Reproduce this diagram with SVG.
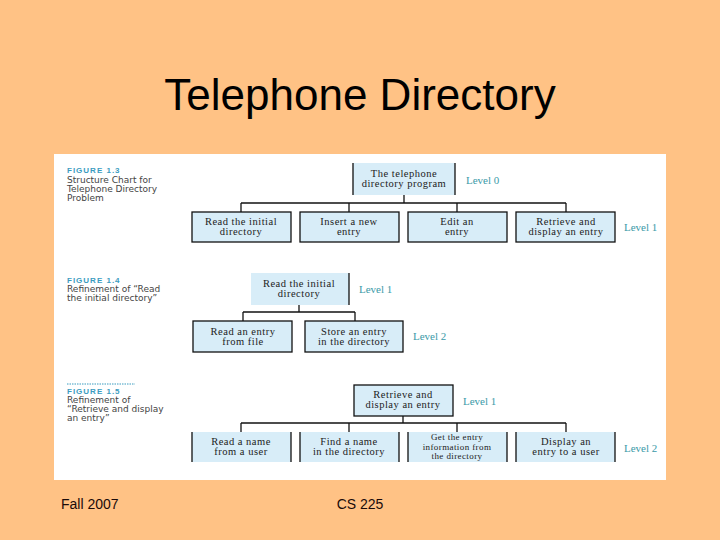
<svg xmlns="http://www.w3.org/2000/svg" width="720" height="540" viewBox="0 0 720 540">
<style>
.title{font-family:"Liberation Sans",Arial,sans-serif;font-size:44px;fill:#000}
.foot{font-family:"Liberation Sans",Arial,sans-serif;font-size:14px;fill:#1a0a0a}
.fig{font-family:"Liberation Sans",Arial,sans-serif;font-size:8px;font-weight:bold;fill:#3b9cc0;letter-spacing:1px}
.cap{font-family:"DejaVu Sans","Liberation Sans",sans-serif;font-size:9px;fill:#444}
.lvl{font-family:"Liberation Serif","Times New Roman",serif;font-size:11px;fill:#3a9aa8}
.box{fill:#d8edf8;stroke:#111;stroke-width:1.3}
.boxf{fill:#d8edf8;stroke:none}
.side{stroke:#111;stroke-width:1.3;fill:none}
.t{font-family:"Liberation Serif","Times New Roman",serif;font-size:10.5px;letter-spacing:0.5px;fill:#222;text-anchor:middle}
.s{font-size:9px;letter-spacing:0.4px}
.con line{stroke:#111;stroke-width:1.3}
</style>
<rect x="0" y="0" width="720" height="540" fill="#ffc285"/>
<text class="title" x="360" y="110" text-anchor="middle">Telephone Directory</text>
<rect x="54" y="154" width="612" height="326" fill="#ffffff"/>
<text class="foot" x="61" y="509">Fall 2007</text>
<text class="foot" x="360" y="509" text-anchor="middle">CS 225</text>

<!-- captions -->
<g id="cap13">
<text class="fig" x="67" y="173">FIGURE 1.3</text>
<text class="cap" x="67" y="183">Structure Chart for</text>
<text class="cap" x="67" y="192">Telephone Directory</text>
<text class="cap" x="67" y="201">Problem</text>
</g>
<g id="cap14">
<text class="fig" x="67" y="283">FIGURE 1.4</text>
<text class="cap" x="67" y="292">Refinement of “Read</text>
<text class="cap" x="67" y="301">the initial directory”</text>
</g>
<g id="cap15">
<line x1="67" y1="384" x2="135" y2="384" stroke="#3b9cc0" stroke-width="1" stroke-dasharray="1.5,1"/>
<text class="fig" x="67" y="394">FIGURE 1.5</text>
<text class="cap" x="67" y="403">Refinement of</text>
<text class="cap" x="67" y="412">“Retrieve and display</text>
<text class="cap" x="67" y="421">an entry”</text>
</g>

<!-- connectors -->
<g id="connectors" class="con">
<line x1="404" y1="195" x2="404" y2="203"/>
<line x1="241" y1="203" x2="566" y2="203"/>
<line x1="241" y1="203" x2="241" y2="212"/>
<line x1="349" y1="203" x2="349" y2="212"/>
<line x1="457" y1="203" x2="457" y2="212"/>
<line x1="566" y1="203" x2="566" y2="212"/>

<line x1="299" y1="305" x2="299" y2="312"/>
<line x1="243" y1="312" x2="355" y2="312"/>
<line x1="243" y1="312" x2="243" y2="321"/>
<line x1="355" y1="312" x2="355" y2="321"/>

<line x1="403" y1="416" x2="403" y2="423"/>
<line x1="241" y1="423" x2="566" y2="423"/>
<line x1="241" y1="423" x2="241" y2="432"/>
<line x1="349" y1="423" x2="349" y2="432"/>
<line x1="457" y1="423" x2="457" y2="432"/>
<line x1="566" y1="423" x2="566" y2="432"/>
</g>

<!-- Figure 1.3 -->
<g id="n13root">
<rect class="boxf" x="353" y="163" width="102" height="32"/>
<path class="side" d="M353,163V195M455,163V195"/>
<text class="t" x="404" y="177">The telephone</text>
<text class="t" x="404" y="187">directory program</text>
</g>
<text class="lvl" x="466" y="184">Level 0</text>
<g id="n13a"><rect class="box" x="192" y="212" width="99" height="30"/>
<text class="t" x="241" y="225">Read the initial</text><text class="t" x="241" y="235">directory</text></g>
<g id="n13b"><rect class="box" x="300" y="212" width="99" height="30"/>
<text class="t" x="349" y="225">Insert a new</text><text class="t" x="349" y="235">entry</text></g>
<g id="n13c"><rect class="box" x="408" y="212" width="99" height="30"/>
<text class="t" x="457" y="225">Edit an</text><text class="t" x="457" y="235">entry</text></g>
<g id="n13d"><rect class="box" x="516" y="212" width="99" height="30"/>
<text class="t" x="566" y="225">Retrieve and</text><text class="t" x="566" y="235">display an entry</text></g>
<text class="lvl" x="624" y="231">Level 1</text>

<!-- Figure 1.4 -->
<g id="n14root">
<rect class="boxf" x="251" y="273" width="98" height="32"/>
<path class="side" d="M349,273V305"/>
<text class="t" x="299" y="287">Read the initial</text>
<text class="t" x="299" y="297">directory</text>
</g>
<text class="lvl" x="359" y="293">Level 1</text>
<g id="n14a"><rect class="box" x="193" y="321" width="99" height="31"/>
<text class="t" x="243" y="335">Read an entry</text><text class="t" x="243" y="345">from file</text></g>
<g id="n14b"><rect class="box" x="305" y="321" width="98" height="31"/>
<text class="t" x="354" y="335">Store an entry</text><text class="t" x="354" y="345">in the directory</text></g>
<text class="lvl" x="413" y="340">Level 2</text>

<!-- Figure 1.5 -->
<g id="n15root"><rect class="box" x="354" y="385" width="99" height="31"/>
<text class="t" x="403" y="398">Retrieve and</text><text class="t" x="403" y="408">display an entry</text></g>
<text class="lvl" x="463" y="405">Level 1</text>
<g id="n15a"><rect class="boxf" x="192" y="432" width="99" height="30"/><path class="side" d="M192,432V462M291,432V462"/>
<text class="t" x="241" y="445">Read a name</text><text class="t" x="241" y="455">from a user</text></g>
<g id="n15b"><rect class="boxf" x="300" y="432" width="99" height="30"/><path class="side" d="M300,432V462M399,432V462"/>
<text class="t" x="349" y="445">Find a name</text><text class="t" x="349" y="455">in the directory</text></g>
<g id="n15c"><rect class="boxf" x="408" y="432" width="99" height="30"/><path class="side" d="M408,432V462M507,432V462"/>
<text class="t s" x="457" y="440">Get the entry</text><text class="t s" x="457" y="449.5">information from</text><text class="t s" x="457" y="459">the directory</text></g>
<g id="n15d"><rect class="boxf" x="516" y="432" width="99" height="30"/><path class="side" d="M516,432V462M615,432V462"/>
<text class="t" x="566" y="445">Display an</text><text class="t" x="566" y="455">entry to a user</text></g>
<text class="lvl" x="624" y="452">Level 2</text>
</svg>
